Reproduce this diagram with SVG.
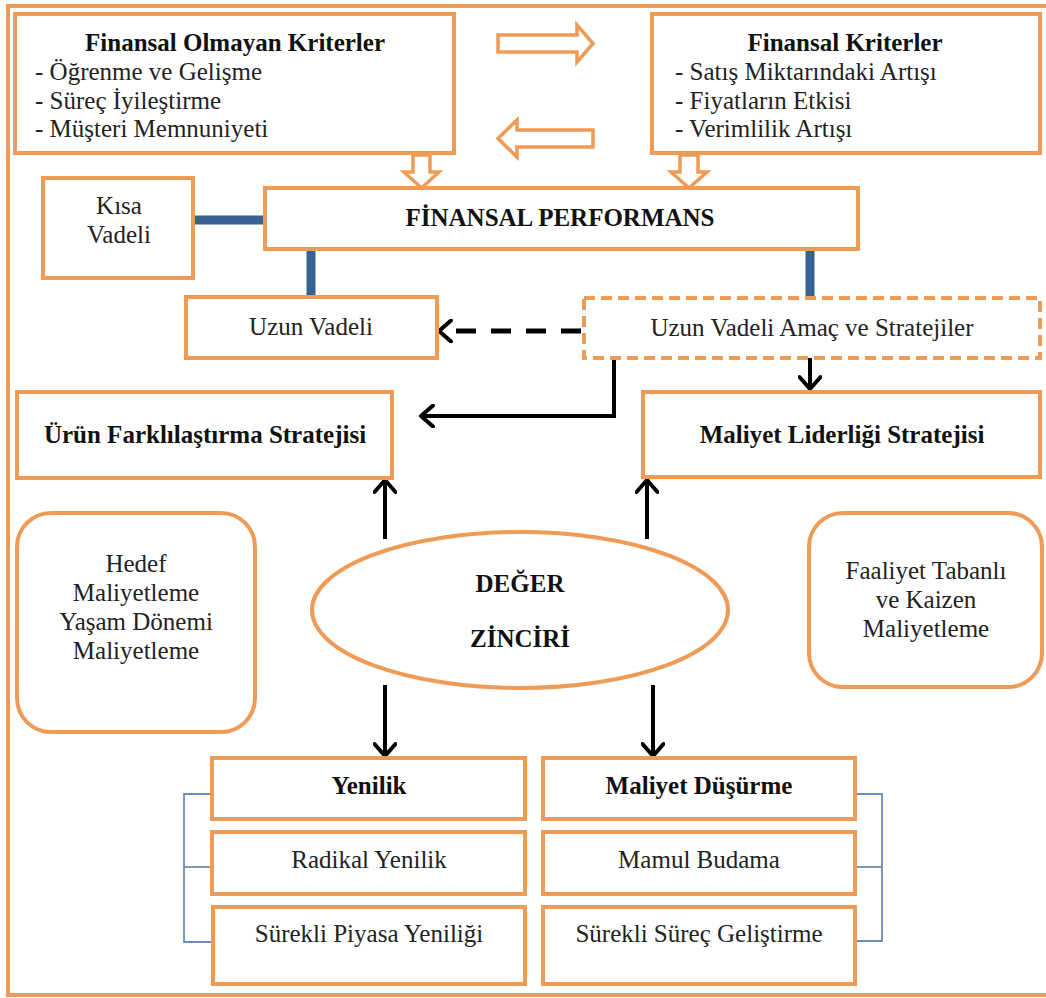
<svg xmlns="http://www.w3.org/2000/svg" width="1046" height="998" viewBox="0 0 1046 998">
<style>
  .box{fill:#fff;stroke:#EF9B55;stroke-width:4}
  .dbox{fill:#fff;stroke:#EF9B55;stroke-width:4;stroke-dasharray:11 6}
  .frame{fill:none;stroke:#EF9B55;stroke-width:4}
  .blk{fill:#fff;stroke:#EF9B55;stroke-width:3.5;stroke-linejoin:miter}
  .t{font-family:"Liberation Serif","Times New Roman",serif;font-size:25px;fill:#222}
  .b{font-weight:bold;fill:#111}
  .c{text-anchor:middle}
  .blue{stroke:#3A6194;stroke-width:9;fill:none}
  .thin{stroke:#6C8DB8;stroke-width:1.8;fill:none}
  .arr{stroke:#000;stroke-width:4;fill:none}
  .dash{stroke:#000;stroke-width:5;fill:none;stroke-dasharray:20 15}
</style>
<defs>
  <marker id="ah" viewBox="0 0 24 24" refX="21" refY="12" markerWidth="24" markerHeight="24" markerUnits="userSpaceOnUse" orient="auto">
    <path d="M9,1.5 L21,12 L9,22.5" fill="none" stroke="#000" stroke-width="4" stroke-linecap="round" stroke-linejoin="round"/>
  </marker>
</defs>
<rect width="1046" height="998" fill="#fff"/>
<rect class="frame" x="8" y="6" width="1060" height="989"/>

<g id="connectors">
  <polygon class="blk" points="498,35 577,35 577,25 593,43.5 577,62 577,52 498,52"/>
  <polygon class="blk" points="593,130 517,130 517,120 498,138.5 517,157 517,147 593,147"/>
  <polygon class="blk" points="413,155 430,155 430,172 439,172 421.5,188 404,172 413,172"/>
  <polygon class="blk" points="680,155 698,155 698,172 707,172 689,188 671,172 680,172"/>
  <line class="blue" x1="193" y1="220" x2="265" y2="220"/>
  <line class="blue" x1="311" y1="250" x2="311" y2="295"/>
  <line class="blue" x1="810" y1="250" x2="810" y2="297"/>
  <line class="dash" x1="581" y1="331" x2="441" y2="331"/>
  <polyline class="arr" points="441,331 439,331" marker-end="url(#ah)"/>
  <polyline class="arr" points="614,358 614,416 421,416" marker-end="url(#ah)"/>
  <line class="arr" x1="810" y1="358" x2="810" y2="389" marker-end="url(#ah)"/>
  <line class="arr" x1="385" y1="539" x2="385" y2="480" marker-end="url(#ah)"/>
  <line class="arr" x1="647" y1="539" x2="647" y2="480" marker-end="url(#ah)"/>
  <line class="arr" x1="385" y1="685" x2="385" y2="756" marker-end="url(#ah)"/>
  <line class="arr" x1="653" y1="685" x2="653" y2="756" marker-end="url(#ah)"/>
  <polyline class="thin" points="212,794 184,794 184,942 212,942"/>
  <line class="thin" x1="184" y1="867" x2="212" y2="867"/>
  <polyline class="thin" points="855,794 882,794 882,941 855,941"/>
  <line class="thin" x1="855" y1="867" x2="882" y2="867"/>
</g>

<g id="finansal-olmayan">
  <rect class="box" x="15" y="14" width="439" height="139"/>
  <text class="t b c" x="235" y="51">Finansal Olmayan Kriterler</text>
  <text class="t" x="35" y="80">- Öğrenme ve Gelişme</text>
  <text class="t" x="35" y="109">- Süreç İyileştirme</text>
  <text class="t" x="35" y="137">- Müşteri Memnuniyeti</text>
</g>

<g id="finansal-kriterler">
  <rect class="box" x="652" y="14" width="388" height="139"/>
  <text class="t b c" x="845" y="51">Finansal Kriterler</text>
  <text class="t" x="675" y="80">- Satış Miktarındaki Artışı</text>
  <text class="t" x="675" y="109">- Fiyatların Etkisi</text>
  <text class="t" x="675" y="137">- Verimlilik Artışı</text>
</g>

<g id="kisa-vadeli">
  <rect class="box" x="43" y="178" width="150" height="100"/>
  <text class="t c" x="119" y="214">Kısa</text>
  <text class="t c" x="119" y="243">Vadeli</text>
</g>

<g id="finansal-performans">
  <rect class="box" x="265" y="188" width="593" height="61"/>
  <text class="t b c" x="560" y="226">FİNANSAL PERFORMANS</text>
</g>

<g id="uzun-vadeli">
  <rect class="box" x="186" y="297" width="251" height="61"/>
  <text class="t c" x="311" y="335">Uzun Vadeli</text>
</g>

<g id="uzun-vadeli-amac">
  <rect class="dbox" x="584" y="298" width="456" height="60"/>
  <text class="t c" x="812" y="336">Uzun Vadeli Amaç ve Stratejiler</text>
</g>

<g id="urun-farklilastirma">
  <rect class="box" x="17" y="392" width="375" height="86"/>
  <text class="t b c" x="205" y="443">Ürün Farklılaştırma Stratejisi</text>
</g>

<g id="maliyet-liderligi">
  <rect class="box" x="643" y="392" width="397" height="85"/>
  <text class="t b c" x="842" y="443">Maliyet Liderliği Stratejisi</text>
</g>

<g id="hedef-maliyetleme">
  <rect class="box" x="17" y="513" width="238" height="219" rx="34"/>
  <text class="t c" x="136" y="572">Hedef</text>
  <text class="t c" x="136" y="601">Maliyetleme</text>
  <text class="t c" x="136" y="630">Yaşam Dönemi</text>
  <text class="t c" x="136" y="659">Maliyetleme</text>
</g>

<g id="faaliyet-tabanli">
  <rect class="box" x="809" y="513" width="233" height="174" rx="34"/>
  <text class="t c" x="926" y="579">Faaliyet Tabanlı</text>
  <text class="t c" x="926" y="608">ve Kaizen</text>
  <text class="t c" x="926" y="637">Maliyetleme</text>
</g>

<g id="deger-zinciri">
  <ellipse class="box" cx="520" cy="610" rx="208" ry="78"/>
  <text class="t b c" x="520" y="592">DEĞER</text>
  <text class="t b c" x="520" y="647">ZİNCİRİ</text>
</g>

<g id="yenilik">
  <rect class="box" x="212" y="758" width="313" height="61"/>
  <text class="t b c" x="369" y="794">Yenilik</text>
</g>
<g id="radikal-yenilik">
  <rect class="box" x="212" y="832" width="313" height="62"/>
  <text class="t c" x="369" y="868">Radikal Yenilik</text>
</g>
<g id="surekli-piyasa">
  <rect class="box" x="213" y="907" width="312" height="77"/>
  <text class="t c" x="369" y="942">Sürekli Piyasa Yeniliği</text>
</g>

<g id="maliyet-dusurme">
  <rect class="box" x="543" y="758" width="312" height="61"/>
  <text class="t b c" x="699" y="794">Maliyet Düşürme</text>
</g>
<g id="mamul-budama">
  <rect class="box" x="543" y="832" width="312" height="62"/>
  <text class="t c" x="699" y="868">Mamul Budama</text>
</g>
<g id="surekli-surec">
  <rect class="box" x="543" y="907" width="312" height="77"/>
  <text class="t c" x="699" y="942">Sürekli Süreç Geliştirme</text>
</g>
</svg>
